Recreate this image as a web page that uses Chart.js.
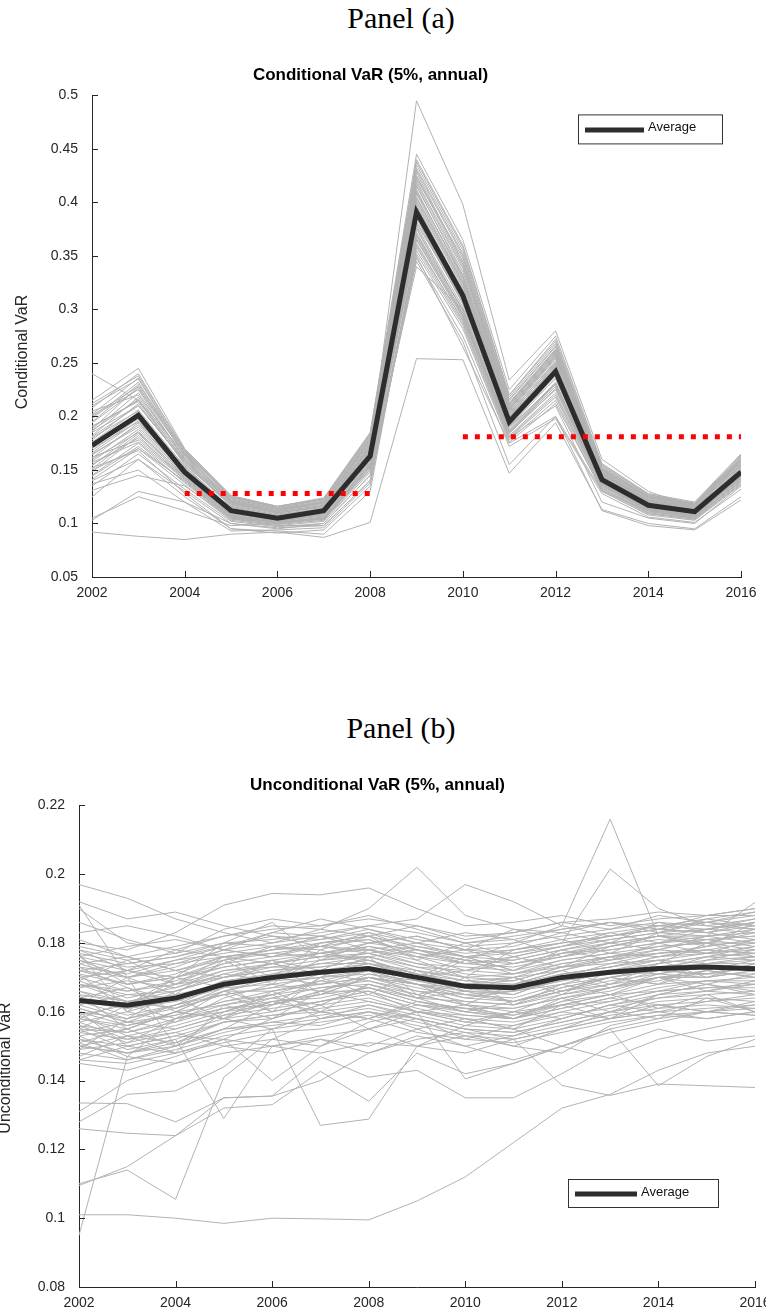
<!DOCTYPE html>
<html>
<head>
<meta charset="utf-8">
<script src="https://cdn.jsdelivr.net/npm/chart.js@4.4.0/dist/chart.umd.min.js"></script>
<style>
  body { margin: 0; background: #fff; width: 766px; height: 1313px; position: relative; overflow: hidden; }
  .panel-head { position: absolute; left: 301px; width: 200px; text-align: center; font-family: "Liberation Serif", serif; font-size: 30px; line-height: 30px; color: #000; }
  canvas { position: absolute; left: 0; }
</style>
</head>
<body>
<div class="panel-head" style="top:3px">Panel (a)</div>
<div class="panel-head" style="top:713px">Panel (b)</div>
<canvas id="chartCond" width="766" height="560" style="top:50px"></canvas>
<canvas id="chartUncond" width="766" height="553" style="top:760px"></canvas>
<script>
const years = [2002, 2003, 2004, 2005, 2006, 2007, 2008, 2009, 2010, 2011, 2012, 2013, 2014, 2015, 2016];

// Panel (a): conditional VaR
const condAverage = [0.173, 0.201, 0.148, 0.112, 0.105, 0.112, 0.163, 0.391, 0.313, 0.195, 0.242, 0.141, 0.117, 0.111, 0.148];
const condFirms = [
    [0.092, 0.088, 0.085, 0.090, 0.092, 0.087, 0.101, 0.254, 0.253, 0.147, 0.194, 0.113, 0.100, 0.095, 0.125],
    [0.240, 0.215, 0.165, 0.120, 0.110, 0.115, 0.170, 0.495, 0.398, 0.234, 0.280, 0.160, 0.130, 0.115, 0.150],
    [0.105, 0.125, 0.112, 0.098, 0.100, 0.105, 0.150, 0.340, 0.300, 0.180, 0.210, 0.120, 0.105, 0.100, 0.135],
    [0.103, 0.130, 0.120, 0.100, 0.095, 0.100, 0.145, 0.345, 0.270, 0.155, 0.200, 0.112, 0.098, 0.094, 0.122],
    [0.131, 0.145, 0.135, 0.105, 0.098, 0.098, 0.140, 0.350, 0.265, 0.175, 0.200, 0.130, 0.112, 0.105, 0.140],
    [0.140, 0.160, 0.125, 0.095, 0.093, 0.090, 0.130, 0.360, 0.290, 0.190, 0.230, 0.140, 0.115, 0.110, 0.145],
    [0.150, 0.170, 0.140, 0.105, 0.100, 0.105, 0.155, 0.370, 0.300, 0.185, 0.225, 0.135, 0.112, 0.108, 0.142],
    [0.160, 0.185, 0.145, 0.108, 0.102, 0.108, 0.160, 0.380, 0.310, 0.195, 0.235, 0.140, 0.116, 0.110, 0.148],
    [0.170, 0.195, 0.150, 0.112, 0.105, 0.110, 0.162, 0.390, 0.315, 0.200, 0.245, 0.142, 0.118, 0.112, 0.150],
    [0.180, 0.205, 0.150, 0.115, 0.107, 0.113, 0.168, 0.400, 0.320, 0.200, 0.250, 0.145, 0.120, 0.113, 0.152],
    [0.190, 0.215, 0.155, 0.118, 0.110, 0.116, 0.172, 0.410, 0.330, 0.205, 0.255, 0.148, 0.122, 0.115, 0.155],
    [0.200, 0.225, 0.160, 0.120, 0.112, 0.118, 0.176, 0.420, 0.340, 0.210, 0.260, 0.150, 0.124, 0.117, 0.158],
    [0.210, 0.235, 0.165, 0.123, 0.114, 0.121, 0.180, 0.430, 0.350, 0.215, 0.265, 0.152, 0.126, 0.118, 0.160],
    [0.215, 0.245, 0.170, 0.126, 0.116, 0.124, 0.185, 0.445, 0.365, 0.225, 0.275, 0.156, 0.128, 0.120, 0.165],
    [0.195, 0.230, 0.168, 0.125, 0.115, 0.122, 0.182, 0.440, 0.360, 0.220, 0.270, 0.150, 0.125, 0.118, 0.163],
    [0.185, 0.210, 0.158, 0.117, 0.109, 0.114, 0.170, 0.415, 0.335, 0.208, 0.258, 0.146, 0.121, 0.114, 0.156],
    [0.175, 0.200, 0.152, 0.113, 0.106, 0.112, 0.165, 0.395, 0.318, 0.198, 0.248, 0.143, 0.119, 0.112, 0.151],
    [0.165, 0.190, 0.147, 0.110, 0.104, 0.109, 0.160, 0.385, 0.305, 0.192, 0.240, 0.140, 0.117, 0.110, 0.147],
    [0.155, 0.180, 0.143, 0.108, 0.101, 0.106, 0.157, 0.375, 0.298, 0.188, 0.232, 0.138, 0.114, 0.108, 0.144],
    [0.145, 0.175, 0.138, 0.104, 0.099, 0.103, 0.150, 0.365, 0.292, 0.182, 0.222, 0.134, 0.111, 0.106, 0.140],
    [0.135, 0.165, 0.132, 0.102, 0.097, 0.100, 0.145, 0.355, 0.285, 0.178, 0.215, 0.130, 0.108, 0.103, 0.136],
    [0.205, 0.220, 0.162, 0.121, 0.113, 0.119, 0.178, 0.425, 0.345, 0.212, 0.262, 0.151, 0.125, 0.117, 0.159],
    [0.188, 0.228, 0.166, 0.124, 0.114, 0.120, 0.174, 0.412, 0.328, 0.206, 0.256, 0.149, 0.123, 0.116, 0.157],
    [0.178, 0.212, 0.156, 0.116, 0.108, 0.113, 0.167, 0.402, 0.322, 0.202, 0.252, 0.146, 0.121, 0.113, 0.153],
    [0.168, 0.198, 0.149, 0.111, 0.105, 0.111, 0.163, 0.392, 0.312, 0.196, 0.244, 0.143, 0.118, 0.111, 0.149],
    [0.158, 0.188, 0.146, 0.109, 0.103, 0.108, 0.158, 0.382, 0.306, 0.193, 0.238, 0.140, 0.116, 0.109, 0.146],
    [0.148, 0.182, 0.141, 0.106, 0.101, 0.105, 0.154, 0.372, 0.296, 0.186, 0.228, 0.137, 0.113, 0.107, 0.143],
    [0.125, 0.160, 0.130, 0.100, 0.096, 0.098, 0.140, 0.348, 0.275, 0.172, 0.198, 0.128, 0.106, 0.101, 0.132],
    [0.208, 0.240, 0.168, 0.125, 0.116, 0.123, 0.183, 0.435, 0.355, 0.218, 0.268, 0.154, 0.127, 0.119, 0.162],
    [0.198, 0.232, 0.163, 0.122, 0.113, 0.120, 0.179, 0.422, 0.348, 0.213, 0.263, 0.151, 0.125, 0.117, 0.160],
    [0.162, 0.178, 0.142, 0.107, 0.100, 0.104, 0.152, 0.368, 0.295, 0.184, 0.226, 0.136, 0.112, 0.106, 0.141],
    [0.152, 0.168, 0.128, 0.095, 0.091, 0.094, 0.135, 0.358, 0.287, 0.180, 0.218, 0.132, 0.110, 0.104, 0.138],
    [0.182, 0.218, 0.160, 0.119, 0.111, 0.117, 0.173, 0.408, 0.326, 0.204, 0.254, 0.147, 0.122, 0.115, 0.154],
    [0.172, 0.202, 0.154, 0.114, 0.107, 0.112, 0.166, 0.398, 0.316, 0.199, 0.247, 0.144, 0.119, 0.112, 0.150],
    [0.176, 0.206, 0.153, 0.114, 0.106, 0.113, 0.166, 0.405, 0.325, 0.201, 0.249, 0.144, 0.119, 0.112, 0.151],
    [0.186, 0.222, 0.161, 0.120, 0.111, 0.117, 0.175, 0.418, 0.338, 0.209, 0.259, 0.148, 0.122, 0.115, 0.157],
    [0.164, 0.192, 0.148, 0.111, 0.104, 0.110, 0.161, 0.388, 0.308, 0.194, 0.241, 0.141, 0.117, 0.110, 0.148],
    [0.154, 0.186, 0.144, 0.108, 0.102, 0.107, 0.156, 0.378, 0.302, 0.190, 0.236, 0.139, 0.115, 0.109, 0.145],
    [0.144, 0.172, 0.139, 0.105, 0.100, 0.104, 0.152, 0.366, 0.294, 0.186, 0.230, 0.137, 0.113, 0.107, 0.142],
    [0.194, 0.226, 0.164, 0.122, 0.113, 0.120, 0.178, 0.428, 0.344, 0.211, 0.262, 0.150, 0.124, 0.117, 0.159],
    [0.202, 0.236, 0.167, 0.124, 0.115, 0.122, 0.181, 0.432, 0.352, 0.216, 0.266, 0.153, 0.126, 0.118, 0.161],
    [0.212, 0.238, 0.169, 0.126, 0.116, 0.123, 0.184, 0.438, 0.358, 0.220, 0.272, 0.155, 0.127, 0.119, 0.164],
    [0.181, 0.210, 0.157, 0.116, 0.108, 0.114, 0.169, 0.404, 0.324, 0.203, 0.251, 0.145, 0.120, 0.113, 0.153],
    [0.171, 0.204, 0.151, 0.113, 0.106, 0.111, 0.164, 0.396, 0.317, 0.197, 0.246, 0.143, 0.118, 0.111, 0.150],
    [0.161, 0.194, 0.147, 0.110, 0.103, 0.109, 0.159, 0.386, 0.307, 0.191, 0.239, 0.140, 0.116, 0.109, 0.147],
    [0.151, 0.184, 0.143, 0.107, 0.101, 0.106, 0.155, 0.376, 0.299, 0.187, 0.231, 0.138, 0.114, 0.108, 0.144],
    [0.141, 0.170, 0.136, 0.103, 0.098, 0.102, 0.148, 0.362, 0.289, 0.181, 0.220, 0.133, 0.110, 0.105, 0.139],
    [0.191, 0.214, 0.159, 0.119, 0.110, 0.116, 0.172, 0.416, 0.332, 0.207, 0.257, 0.147, 0.121, 0.114, 0.155],
    [0.201, 0.228, 0.164, 0.121, 0.112, 0.119, 0.177, 0.424, 0.342, 0.211, 0.261, 0.150, 0.124, 0.116, 0.158],
    [0.166, 0.196, 0.150, 0.112, 0.105, 0.110, 0.161, 0.390, 0.310, 0.197, 0.243, 0.142, 0.117, 0.111, 0.149],
    [0.157, 0.176, 0.141, 0.106, 0.100, 0.105, 0.153, 0.370, 0.293, 0.185, 0.228, 0.136, 0.113, 0.107, 0.143],
    [0.137, 0.150, 0.120, 0.093, 0.094, 0.096, 0.138, 0.352, 0.282, 0.176, 0.212, 0.131, 0.109, 0.104, 0.137],
    [0.187, 0.216, 0.158, 0.118, 0.110, 0.116, 0.171, 0.410, 0.331, 0.207, 0.257, 0.148, 0.122, 0.115, 0.155]
];
// red dotted reference levels
const condLevelYears1 = [2004, 2008];
const condLevel1 = 0.128;
const condLevelYears2 = [2010, 2016];
const condLevel2 = 0.181;
const condTicksY = [0.05, 0.5, 0.05];

// Panel (b): unconditional VaR
const uncondAverage = [0.1633, 0.1619, 0.1640, 0.1680, 0.1700, 0.1715, 0.1726, 0.1700, 0.1674, 0.1670, 0.1700, 0.1715, 0.1726, 0.1730, 0.1725];
const uncondFirms = [
    [0.101, 0.101, 0.100, 0.0985, 0.100, 0.0998, 0.0995, 0.105, 0.112, 0.122, 0.132, 0.136, 0.143, 0.148, 0.150],
    [0.095, 0.147, 0.158, 0.160, 0.162, 0.165, 0.170, 0.168, 0.166, 0.163, 0.167, 0.170, 0.172, 0.171, 0.173],
    [0.110, 0.114, 0.1055, 0.141, 0.152, 0.158, 0.160, 0.155, 0.150, 0.153, 0.158, 0.162, 0.160, 0.163, 0.165],
    [0.1095, 0.115, 0.124, 0.135, 0.1355, 0.140, 0.148, 0.152, 0.154, 0.150, 0.155, 0.160, 0.165, 0.166, 0.168],
    [0.126, 0.1247, 0.124, 0.132, 0.133, 0.1427, 0.134, 0.148, 0.142, 0.145, 0.150, 0.155, 0.158, 0.160, 0.162],
    [0.1335, 0.1333, 0.128, 0.135, 0.1355, 0.147, 0.141, 0.143, 0.135, 0.135, 0.142, 0.150, 0.155, 0.1515, 0.153],
    [0.128, 0.136, 0.137, 0.144, 0.155, 0.160, 0.158, 0.162, 0.160, 0.158, 0.163, 0.167, 0.170, 0.172, 0.170],
    [0.131, 0.140, 0.145, 0.150, 0.152, 0.150, 0.157, 0.160, 0.1405, 0.145, 0.150, 0.1465, 0.152, 0.155, 0.158],
    [0.158, 0.155, 0.160, 0.158, 0.155, 0.127, 0.1288, 0.150, 0.156, 0.160, 0.158, 0.162, 0.165, 0.168, 0.166],
    [0.150, 0.148, 0.152, 0.129, 0.150, 0.153, 0.155, 0.160, 0.162, 0.158, 0.161, 0.164, 0.162, 0.160, 0.163],
    [0.146, 0.150, 0.153, 0.152, 0.140, 0.150, 0.155, 0.158, 0.155, 0.152, 0.1386, 0.1357, 0.139, 0.1385, 0.138],
    [0.197, 0.193, 0.187, 0.183, 0.180, 0.182, 0.178, 0.180, 0.176, 0.178, 0.180, 0.182, 0.185, 0.184, 0.186],
    [0.180, 0.178, 0.183, 0.191, 0.1944, 0.194, 0.196, 0.190, 0.185, 0.186, 0.188, 0.185, 0.187, 0.188, 0.190],
    [0.175, 0.172, 0.178, 0.182, 0.185, 0.184, 0.190, 0.202, 0.188, 0.184, 0.183, 0.186, 0.185, 0.187, 0.189],
    [0.172, 0.174, 0.176, 0.180, 0.181, 0.183, 0.185, 0.187, 0.197, 0.192, 0.185, 0.182, 0.184, 0.186, 0.188],
    [0.165, 0.163, 0.166, 0.170, 0.172, 0.174, 0.176, 0.178, 0.175, 0.180, 0.185, 0.216, 0.182, 0.180, 0.183],
    [0.168, 0.166, 0.169, 0.173, 0.175, 0.172, 0.178, 0.175, 0.170, 0.178, 0.180, 0.2015, 0.190, 0.185, 0.184],
    [0.192, 0.187, 0.189, 0.185, 0.182, 0.179, 0.181, 0.176, 0.178, 0.174, 0.177, 0.180, 0.178, 0.182, 0.1918],
    [0.190, 0.180, 0.178, 0.176, 0.174, 0.177, 0.175, 0.170, 0.172, 0.176, 0.179, 0.183, 0.180, 0.184, 0.187],
    [0.178, 0.175, 0.177, 0.180, 0.179, 0.181, 0.183, 0.180, 0.178, 0.177, 0.180, 0.182, 0.184, 0.183, 0.185],
    [0.176, 0.173, 0.174, 0.176, 0.178, 0.180, 0.182, 0.178, 0.176, 0.175, 0.178, 0.180, 0.182, 0.181, 0.182],
    [0.174, 0.170, 0.172, 0.175, 0.177, 0.176, 0.179, 0.176, 0.174, 0.173, 0.176, 0.178, 0.180, 0.182, 0.180],
    [0.172, 0.168, 0.170, 0.173, 0.175, 0.177, 0.178, 0.174, 0.171, 0.170, 0.174, 0.176, 0.179, 0.180, 0.178],
    [0.170, 0.166, 0.168, 0.172, 0.173, 0.175, 0.176, 0.172, 0.169, 0.168, 0.172, 0.175, 0.177, 0.178, 0.177],
    [0.168, 0.165, 0.166, 0.170, 0.172, 0.173, 0.175, 0.171, 0.168, 0.167, 0.171, 0.173, 0.176, 0.177, 0.176],
    [0.166, 0.163, 0.165, 0.168, 0.170, 0.172, 0.173, 0.169, 0.166, 0.166, 0.169, 0.172, 0.174, 0.176, 0.175],
    [0.163, 0.161, 0.163, 0.167, 0.168, 0.170, 0.172, 0.168, 0.165, 0.164, 0.168, 0.170, 0.173, 0.174, 0.174],
    [0.160, 0.158, 0.161, 0.165, 0.167, 0.168, 0.170, 0.166, 0.163, 0.162, 0.166, 0.169, 0.171, 0.173, 0.172],
    [0.158, 0.156, 0.159, 0.163, 0.165, 0.167, 0.169, 0.165, 0.162, 0.161, 0.164, 0.167, 0.170, 0.171, 0.171],
    [0.156, 0.154, 0.157, 0.161, 0.163, 0.165, 0.167, 0.163, 0.160, 0.159, 0.162, 0.165, 0.168, 0.169, 0.170],
    [0.154, 0.152, 0.155, 0.159, 0.161, 0.163, 0.165, 0.161, 0.158, 0.157, 0.160, 0.163, 0.166, 0.167, 0.168],
    [0.152, 0.150, 0.153, 0.157, 0.159, 0.161, 0.163, 0.160, 0.157, 0.156, 0.159, 0.161, 0.164, 0.165, 0.166],
    [0.150, 0.148, 0.151, 0.155, 0.157, 0.159, 0.161, 0.158, 0.155, 0.154, 0.157, 0.160, 0.162, 0.163, 0.164],
    [0.148, 0.146, 0.149, 0.153, 0.155, 0.157, 0.159, 0.156, 0.153, 0.152, 0.155, 0.158, 0.160, 0.161, 0.162],
    [0.176, 0.179, 0.181, 0.178, 0.180, 0.184, 0.182, 0.185, 0.181, 0.183, 0.186, 0.184, 0.188, 0.186, 0.189],
    [0.162, 0.170, 0.165, 0.175, 0.168, 0.178, 0.174, 0.170, 0.176, 0.172, 0.178, 0.175, 0.180, 0.177, 0.181],
    [0.155, 0.162, 0.158, 0.166, 0.162, 0.170, 0.165, 0.172, 0.166, 0.170, 0.165, 0.172, 0.175, 0.170, 0.174],
    [0.171, 0.160, 0.164, 0.158, 0.166, 0.160, 0.168, 0.164, 0.170, 0.162, 0.168, 0.165, 0.170, 0.166, 0.169],
    [0.165, 0.155, 0.150, 0.160, 0.165, 0.158, 0.162, 0.158, 0.152, 0.156, 0.160, 0.158, 0.162, 0.160, 0.159],
    [0.160, 0.150, 0.148, 0.152, 0.158, 0.162, 0.155, 0.150, 0.148, 0.152, 0.155, 0.158, 0.160, 0.158, 0.160],
    [0.153, 0.147, 0.145, 0.148, 0.150, 0.152, 0.148, 0.153, 0.150, 0.146, 0.150, 0.154, 0.157, 0.160, 0.161],
    [0.157, 0.152, 0.154, 0.150, 0.148, 0.152, 0.150, 0.155, 0.158, 0.155, 0.150, 0.155, 0.1385, 0.147, 0.152],
    [0.177, 0.160, 0.170, 0.180, 0.186, 0.175, 0.180, 0.182, 0.178, 0.184, 0.181, 0.177, 0.183, 0.186, 0.184],
    [0.169, 0.175, 0.168, 0.176, 0.170, 0.180, 0.182, 0.175, 0.180, 0.176, 0.173, 0.179, 0.182, 0.179, 0.186],
    [0.159, 0.162, 0.170, 0.167, 0.175, 0.165, 0.170, 0.168, 0.162, 0.168, 0.172, 0.168, 0.174, 0.180, 0.176],
    [0.149, 0.158, 0.162, 0.168, 0.160, 0.170, 0.176, 0.165, 0.168, 0.170, 0.166, 0.170, 0.168, 0.175, 0.178],
    [0.145, 0.143, 0.147, 0.152, 0.150, 0.148, 0.151, 0.150, 0.153, 0.150, 0.148, 0.156, 0.159, 0.158, 0.160],
    [0.179, 0.176, 0.172, 0.170, 0.174, 0.171, 0.173, 0.169, 0.175, 0.171, 0.173, 0.176, 0.172, 0.176, 0.179],
    [0.173, 0.167, 0.160, 0.166, 0.170, 0.168, 0.172, 0.164, 0.166, 0.165, 0.170, 0.167, 0.171, 0.170, 0.172],
    [0.191, 0.170, 0.150, 0.155, 0.162, 0.166, 0.170, 0.168, 0.165, 0.163, 0.166, 0.170, 0.168, 0.172, 0.175],
    [0.186, 0.181, 0.177, 0.184, 0.187, 0.185, 0.188, 0.184, 0.180, 0.182, 0.184, 0.186, 0.183, 0.187, 0.185],
    [0.183, 0.185, 0.182, 0.178, 0.183, 0.187, 0.184, 0.180, 0.183, 0.181, 0.176, 0.180, 0.186, 0.183, 0.181],
    [0.147, 0.153, 0.148, 0.162, 0.158, 0.166, 0.163, 0.160, 0.158, 0.155, 0.162, 0.158, 0.165, 0.168, 0.165],
    [0.151, 0.155, 0.160, 0.158, 0.163, 0.160, 0.158, 0.163, 0.161, 0.158, 0.164, 0.160, 0.158, 0.164, 0.160],
    [0.161, 0.157, 0.162, 0.165, 0.160, 0.163, 0.166, 0.160, 0.157, 0.160, 0.162, 0.165, 0.161, 0.165, 0.160],
    [0.175, 0.170, 0.173, 0.178, 0.176, 0.180, 0.181, 0.177, 0.174, 0.176, 0.179, 0.181, 0.183, 0.184, 0.183],
    [0.167, 0.172, 0.170, 0.174, 0.179, 0.177, 0.180, 0.178, 0.176, 0.172, 0.177, 0.179, 0.181, 0.180, 0.184],
    [0.162, 0.158, 0.166, 0.171, 0.169, 0.175, 0.177, 0.173, 0.170, 0.171, 0.175, 0.177, 0.176, 0.179, 0.181],
    [0.157, 0.160, 0.157, 0.164, 0.168, 0.166, 0.171, 0.168, 0.167, 0.165, 0.170, 0.174, 0.175, 0.177, 0.178],
    [0.153, 0.155, 0.160, 0.162, 0.165, 0.169, 0.167, 0.164, 0.160, 0.163, 0.166, 0.168, 0.172, 0.171, 0.174],
    [0.149, 0.151, 0.154, 0.158, 0.160, 0.163, 0.166, 0.162, 0.159, 0.158, 0.161, 0.164, 0.167, 0.169, 0.168],
    [0.171, 0.168, 0.171, 0.176, 0.177, 0.179, 0.178, 0.176, 0.172, 0.174, 0.177, 0.178, 0.180, 0.181, 0.182],
    [0.177, 0.174, 0.176, 0.179, 0.182, 0.181, 0.184, 0.181, 0.179, 0.180, 0.182, 0.184, 0.186, 0.185, 0.187],
    [0.164, 0.167, 0.163, 0.169, 0.171, 0.174, 0.174, 0.170, 0.168, 0.169, 0.173, 0.174, 0.177, 0.178, 0.177],
    [0.159, 0.153, 0.156, 0.160, 0.164, 0.162, 0.168, 0.165, 0.162, 0.160, 0.165, 0.167, 0.169, 0.172, 0.170],
    [0.155, 0.149, 0.152, 0.157, 0.159, 0.160, 0.162, 0.159, 0.156, 0.155, 0.158, 0.162, 0.164, 0.166, 0.165],
    [0.151, 0.146, 0.150, 0.155, 0.156, 0.158, 0.160, 0.157, 0.154, 0.153, 0.156, 0.159, 0.161, 0.162, 0.161],
    [0.173, 0.171, 0.175, 0.177, 0.179, 0.178, 0.182, 0.179, 0.177, 0.178, 0.181, 0.183, 0.185, 0.186, 0.185],
    [0.169, 0.164, 0.167, 0.171, 0.174, 0.176, 0.177, 0.174, 0.173, 0.172, 0.175, 0.177, 0.179, 0.180, 0.180],
    [0.166, 0.161, 0.164, 0.169, 0.170, 0.171, 0.174, 0.172, 0.170, 0.169, 0.173, 0.175, 0.178, 0.177, 0.179],
    [0.163, 0.159, 0.162, 0.166, 0.169, 0.170, 0.171, 0.169, 0.167, 0.167, 0.170, 0.171, 0.173, 0.175, 0.176],
    [0.161, 0.157, 0.159, 0.163, 0.166, 0.168, 0.170, 0.167, 0.164, 0.163, 0.167, 0.170, 0.172, 0.173, 0.173],
    [0.174, 0.176, 0.172, 0.176, 0.178, 0.182, 0.180, 0.182, 0.178, 0.179, 0.183, 0.180, 0.182, 0.184, 0.186],
    [0.170, 0.172, 0.168, 0.174, 0.176, 0.177, 0.179, 0.177, 0.175, 0.174, 0.176, 0.179, 0.182, 0.182, 0.183],
    [0.158, 0.163, 0.161, 0.165, 0.167, 0.171, 0.169, 0.166, 0.165, 0.166, 0.168, 0.172, 0.171, 0.174, 0.175],
    [0.154, 0.157, 0.155, 0.159, 0.163, 0.164, 0.167, 0.163, 0.161, 0.161, 0.164, 0.166, 0.170, 0.168, 0.171],
    [0.150, 0.153, 0.151, 0.157, 0.158, 0.162, 0.164, 0.160, 0.159, 0.158, 0.162, 0.163, 0.166, 0.167, 0.167],
    [0.178, 0.172, 0.175, 0.179, 0.183, 0.182, 0.185, 0.183, 0.180, 0.181, 0.184, 0.186, 0.184, 0.188, 0.188],
    [0.172, 0.170, 0.174, 0.178, 0.176, 0.179, 0.177, 0.179, 0.176, 0.177, 0.179, 0.182, 0.184, 0.183, 0.186],
    [0.167, 0.169, 0.167, 0.172, 0.174, 0.176, 0.176, 0.173, 0.172, 0.171, 0.174, 0.176, 0.178, 0.181, 0.179],
    [0.156, 0.151, 0.158, 0.161, 0.162, 0.166, 0.166, 0.162, 0.161, 0.159, 0.163, 0.165, 0.166, 0.169, 0.169],
    [0.152, 0.148, 0.150, 0.154, 0.157, 0.156, 0.160, 0.158, 0.155, 0.154, 0.157, 0.160, 0.163, 0.164, 0.163],
    [0.176, 0.168, 0.170, 0.175, 0.178, 0.179, 0.183, 0.178, 0.174, 0.175, 0.178, 0.181, 0.183, 0.182, 0.184],
    [0.164, 0.162, 0.168, 0.170, 0.173, 0.173, 0.175, 0.171, 0.169, 0.170, 0.172, 0.176, 0.177, 0.179, 0.181],
    [0.160, 0.156, 0.160, 0.166, 0.166, 0.169, 0.172, 0.168, 0.164, 0.166, 0.169, 0.171, 0.174, 0.176, 0.177],
    [0.146, 0.145, 0.148, 0.151, 0.154, 0.155, 0.158, 0.154, 0.152, 0.151, 0.154, 0.157, 0.159, 0.160, 0.159],
    [0.181, 0.176, 0.179, 0.182, 0.184, 0.185, 0.187, 0.185, 0.182, 0.183, 0.186, 0.187, 0.189, 0.188, 0.190],
    [0.168, 0.163, 0.161, 0.167, 0.171, 0.172, 0.173, 0.170, 0.168, 0.167, 0.171, 0.173, 0.175, 0.174, 0.176],
    [0.162, 0.165, 0.164, 0.168, 0.170, 0.172, 0.174, 0.171, 0.168, 0.168, 0.171, 0.173, 0.176, 0.178, 0.180],
    [0.155, 0.154, 0.158, 0.162, 0.164, 0.167, 0.168, 0.164, 0.163, 0.162, 0.165, 0.168, 0.170, 0.170, 0.172]
];
const uncondTicksY = [0.08, 0.22, 0.02];

const axisColor = '#262626';
const greyColor = 'rgb(178,178,178)';
const avgColor = '#2d2d2d';
const fontFamily = '"Liberation Sans", Arial, sans-serif';

function toPoints(values){
    return values.map((v, i) => ({x: years[i], y: v}));
}

// MATLAB style tick marks pointing into the plot
const innerTicks = {
    id: 'innerTicks',
    afterDraw(chart){
        const ctx = chart.ctx;
        const xs = chart.scales.x, ys = chart.scales.y;
        const area = chart.chartArea;
        ctx.save();
        ctx.strokeStyle = axisColor;
        ctx.lineWidth = 1;
        ctx.beginPath();
        for (const t of xs.ticks){
            const px = Math.round(xs.getPixelForValue(t.value)) + 0.5;
            ctx.moveTo(px, area.bottom);
            ctx.lineTo(px, area.bottom - 6);
        }
        for (const t of ys.ticks){
            const py = Math.round(ys.getPixelForValue(t.value)) + 0.5;
            ctx.moveTo(area.left, py);
            ctx.lineTo(area.left + 6, py);
        }
        ctx.stroke();
        ctx.restore();
    }
};

const sideLabel = {
    id: 'sideLabel',
    afterDraw(chart, args, opts){
        const ctx = chart.ctx;
        ctx.save();
        ctx.translate(opts.x, opts.y);
        ctx.rotate(-Math.PI / 2);
        ctx.font = '16px ' + fontFamily;
        ctx.fillStyle = axisColor;
        ctx.textAlign = 'center';
        ctx.textBaseline = 'alphabetic';
        ctx.fillText(opts.text, 0, 0);
        ctx.restore();
    }
};

const avgLegend = {
    id: 'avgLegend',
    afterDraw(chart, args, opts){
        const ctx = chart.ctx;
        const area = chart.chartArea;
        const left = area.right - opts.fromRight;
        const top = opts.fromTop != null ? area.top + opts.fromTop : area.bottom - opts.fromBottom;
        ctx.save();
        ctx.fillStyle = '#fff';
        ctx.fillRect(left, top, opts.width, opts.height);
        ctx.strokeStyle = '#333';
        ctx.lineWidth = 1;
        ctx.strokeRect(left + 0.5, top + 0.5, opts.width, opts.height);
        ctx.strokeStyle = avgColor;
        ctx.lineWidth = 5;
        ctx.beginPath();
        ctx.moveTo(left + 7, top + opts.height / 2 + 1);
        ctx.lineTo(left + 7 + opts.lineLen, top + opts.height / 2 + 1);
        ctx.stroke();
        ctx.font = '13px ' + fontFamily;
        ctx.fillStyle = '#111';
        ctx.textBaseline = 'middle';
        ctx.fillText('Average', left + 11 + opts.lineLen, top + opts.height / 2 - 1);
        ctx.restore();
    }
};

function buildChart(canvasId, cfg){
    const datasets = [];
    for (const lvl of cfg.levels){
        datasets.push({
            data: [{x: lvl.years[0], y: lvl.value}, {x: lvl.years[1], y: lvl.value}],
            borderColor: '#ff0000',
            borderWidth: 5,
            borderDash: [5, 7],
            borderCapStyle: 'butt',
            pointRadius: 0,
            order: 0
        });
    }
    datasets.push({
        label: 'Average',
        data: toPoints(cfg.average),
        borderColor: avgColor,
        borderWidth: 5,
        borderJoinStyle: 'miter',
        pointRadius: 0,
        tension: 0,
        order: 1
    });
    for (const s of cfg.firms){
        datasets.push({
            data: toPoints(s),
            borderColor: greyColor,
            borderWidth: 1,
            pointRadius: 0,
            tension: 0,
            order: 2
        });
    }

    const tickFont = {family: fontFamily, size: 14};
    return new Chart(document.getElementById(canvasId), {
        type: 'line',
        data: {datasets: datasets},
        options: {
            responsive: false,
            animation: false,
            events: [],
            layout: {padding: {left: 0, right: cfg.padRight, top: 0, bottom: 0}},
            plugins: {
                legend: {display: false},
                tooltip: {enabled: false},
                title: {
                    display: true,
                    text: cfg.title,
                    color: '#000',
                    font: {family: fontFamily, size: 17, weight: 'bold'},
                    padding: {top: 15, bottom: 10}
                },
                sideLabel: cfg.sideLabel,
                avgLegend: cfg.legend
            },
            scales: {
                x: {
                    type: 'linear',
                    min: years[0],
                    max: years[years.length - 1],
                    ticks: {
                        stepSize: 2,
                        color: axisColor,
                        font: tickFont,
                        padding: 8,
                        maxRotation: 0,
                        autoSkip: false,
                        callback: v => String(v)
                    },
                    grid: {drawOnChartArea: false, drawTicks: false},
                    border: {color: axisColor, width: 1},
                    afterFit(scale){
                        scale.height = cfg.xHeight;
                        scale.paddingLeft = 0;
                        scale.paddingRight = 0;
                    }
                },
                y: {
                    min: cfg.ticksY[0],
                    max: cfg.ticksY[1],
                    ticks: {
                        stepSize: cfg.ticksY[2],
                        color: axisColor,
                        font: tickFont,
                        padding: 14,
                        callback: v => String(+v.toFixed(2))
                    },
                    grid: {drawOnChartArea: false, drawTicks: false},
                    border: {color: axisColor, width: 1},
                    afterFit(scale){
                        scale.width = cfg.yWidth;
                        scale.paddingTop = 0;
                        scale.paddingBottom = 0;
                    }
                }
            }
        },
        plugins: [innerTicks, sideLabel, avgLegend]
    });
}

buildChart('chartCond', {
    title: 'Conditional VaR (5%, annual)',
    average: condAverage,
    firms: condFirms,
    levels: [{years: condLevelYears1, value: condLevel1}, {years: condLevelYears2, value: condLevel2}],
    ticksY: condTicksY,
    yWidth: 92,
    xHeight: 33,
    padRight: 25,
    sideLabel: {text: 'Conditional VaR', x: 27, y: 302},
    legend: {fromRight: 163, fromTop: 19, width: 144, height: 29, lineLen: 59}
});

buildChart('chartUncond', {
    title: 'Unconditional VaR (5%, annual)',
    average: uncondAverage,
    firms: uncondFirms,
    levels: [],
    ticksY: uncondTicksY,
    yWidth: 79,
    xHeight: 26,
    padRight: 11,
    sideLabel: {text: 'Unconditional VaR', x: 10, y: 308},
    legend: {fromRight: 187, fromBottom: 108, width: 150, height: 28, lineLen: 62}
});
</script>
</body>
</html>
